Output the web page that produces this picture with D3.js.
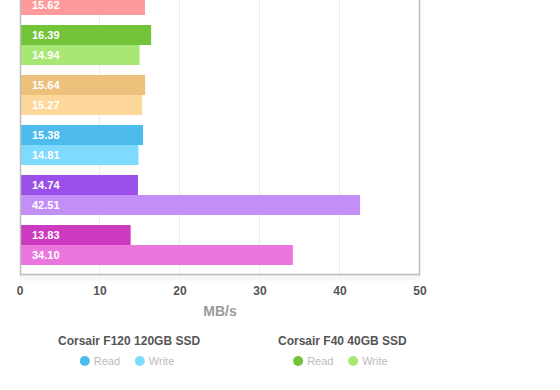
<!DOCTYPE html>
<html>
<head>
<meta charset="utf-8">
<script src="https://cdn.jsdelivr.net/npm/d3@7"></script>
<style>
  body { margin: 0; background: #fff; }
  svg { display: block; font-family: "Liberation Sans", Arial, sans-serif; }
</style>
</head>
<body>
<div id="chart"></div>
<script>
// drives, top to bottom (first one is cut off at the top of the picture)
var drives = ["pink", "Corsair F40 40GB SSD", "orange", "Corsair F120 120GB SSD", "purple", "magenta"];
var readValues  = [null, 16.39, 15.64, 15.38, 14.74, 13.83];
var writeValues = [15.62, 14.94, 15.27, 14.81, 42.51, 34.10];
var readColors  = ["#ff9a9c", "#74c43a", "#edc07c", "#4dbcec", "#9a4fe9", "#cc3bbf"];
var writeColors = ["#ff9a9c", "#a8e773", "#fed79a", "#7fdbfe", "#c38ff7", "#eb76dd"];
var xTicks = [0, 10, 20, 30, 40, 50];
var legends = [
  {title: "Corsair F120 120GB SSD", idx: 3},
  {title: "Corsair F40 40GB SSD", idx: 1}
];

var width = 560, height = 390;
var left = 20, right = 420, bottom = 274;

var svg = d3.select("#chart")
  .append("svg")
    .attr("width", width)
    .attr("height", height);

var x = d3.scaleLinear().domain([0, 50]).range([left, right]);
var y = d3.scaleBand().domain(drives).range([-30, 270]);
var sub = d3.scaleBand().domain(["read", "write"]).range([5, 45]);

// soft shadow under the plot
var grad = svg.append("defs").append("linearGradient")
    .attr("id", "shade").attr("x1", 0).attr("y1", 0).attr("x2", 0).attr("y2", 1);
grad.append("stop").attr("offset", 0).attr("stop-color", "#000").attr("stop-opacity", 0.05);
grad.append("stop").attr("offset", 1).attr("stop-color", "#000").attr("stop-opacity", 0);
svg.append("rect")
    .attr("x", left).attr("y", bottom + 1)
    .attr("width", right - left).attr("height", 8)
    .attr("fill", "url(#shade)");

// grid lines
svg.selectAll("line.grid")
  .data(xTicks.slice(1, -1))
  .enter()
  .append("line")
    .attr("class", "grid")
    .attr("x1", function(d) { return x(d) - 0.5; })
    .attr("x2", function(d) { return x(d) - 0.5; })
    .attr("y1", 0).attr("y2", bottom)
    .style("stroke", "#ececec")
    .style("stroke-width", 1);

// bars
var rows = [];
drives.forEach(function(d, i) {
  if (readValues[i] != null) rows.push({drive: d, kind: "read", v: readValues[i], c: readColors[i]});
  if (writeValues[i] != null) rows.push({drive: d, kind: "write", v: writeValues[i], c: writeColors[i]});
});

svg.selectAll("rect.bar")
  .data(rows)
  .enter()
  .append("rect")
    .attr("class", "bar")
    .attr("x", x(0))
    .attr("y", function(d) { return y(d.drive) + sub(d.kind); })
    .attr("width", function(d) { return x(d.v) - x(0); })
    .attr("height", sub.bandwidth())
    .attr("fill", function(d) { return d.c; });

svg.selectAll("text.val")
  .data(rows)
  .enter()
  .append("text")
    .attr("class", "val")
    .attr("x", x(0) + 12)
    .attr("y", function(d) { return y(d.drive) + sub(d.kind) + sub.bandwidth() / 2 + 4; })
    .attr("fill", "#fff")
    .style("font-size", "11px")
    .style("font-weight", "bold")
    .text(function(d) { return d3.format(".2f")(d.v); });

// frame
svg.append("path")
    .attr("d", "M" + (left + 0.5) + ",0V" + (bottom + 0.5) + "H" + (right - 0.5) + "V0")
    .attr("fill", "none")
    .style("stroke", "#bdbdbd")
    .style("stroke-width", 1.5);

// x axis labels
svg.selectAll("text.tick")
  .data(xTicks)
  .enter()
  .append("text")
    .attr("class", "tick")
    .attr("x", function(d) { return x(d); })
    .attr("y", 295)
    .attr("text-anchor", "middle")
    .attr("fill", "#555")
    .style("font-size", "12px")
    .style("font-weight", "bold")
    .text(function(d) { return d; });

svg.append("text")
    .attr("x", 220)
    .attr("y", 316)
    .attr("text-anchor", "middle")
    .attr("fill", "#9a9a9a")
    .style("font-size", "14px")
    .style("font-weight", "bold")
    .text("MB/s");

// legends, items centred under each title
legends.forEach(function(d, i) {
  var g = svg.append("g")
      .attr("transform", "translate(" + (58 + i * 220) + ",0)");
  var title = g.append("text")
      .attr("x", 0).attr("y", 345)
      .attr("fill", "#555")
      .style("font-size", "12px")
      .style("font-weight", "bold")
      .text(d.title);
  var mid = title.node().getComputedTextLength() / 2;
  var items = g.append("g");
  [["Read", readColors, 0], ["Write", writeColors, 55]].forEach(function(k) {
    items.append("circle")
        .attr("cx", k[2] + 5).attr("cy", 361).attr("r", 5)
        .attr("fill", k[1][d.idx]);
    items.append("text")
        .attr("x", k[2] + 14).attr("y", 365)
        .attr("fill", "#bbb")
        .style("font-size", "11px")
        .text(k[0]);
  });
  var bb = items.node().getBBox();
  items.attr("transform", "translate(" + (mid - bb.width / 2 - 2) + ",0)");
});
</script>
</body>
</html>
